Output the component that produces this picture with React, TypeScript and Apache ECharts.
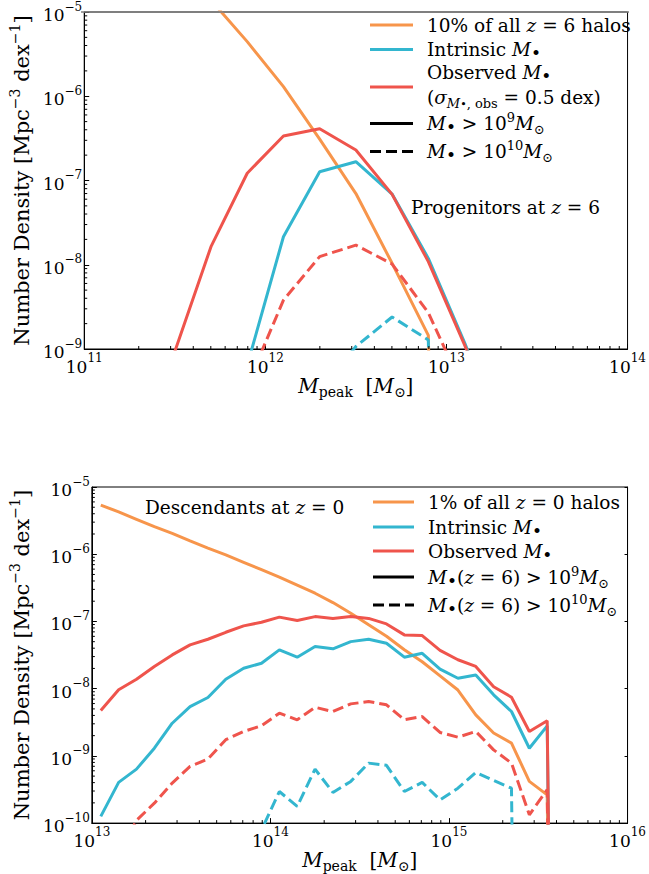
import React, { useEffect, useRef } from 'react';
import * as echarts from 'echarts';

// value used for empty bins (zero counts, drawn as a drop to the axis like a log plot of 0)
const ZERO = 1e-30;

// ---------- Top panel: progenitors at z = 6 ----------
const topLogMpeak = [11.3, 11.5, 11.7, 11.9, 12.1, 12.3, 12.5, 12.7, 12.9, 13.1, 13.3];
const topAllHalos = [9.0e-5, 3.5e-5, 1.38e-5, 4.45e-6, 1.3e-6, 3.1e-7, 7.0e-8, 1.04e-8, 1.45e-9, ZERO, ZERO];
const topIntrinsic9 = [ZERO, ZERO, ZERO, 6.4e-10, 2.15e-8, 1.27e-7, 1.67e-7, 6.9e-8, 1.19e-8, 1.19e-9, 1.0e-10];
const topObserved9 = [1.0e-11, 9.3e-10, 1.64e-8, 1.22e-7, 3.37e-7, 4.12e-7, 2.3e-7, 6.85e-8, 1.09e-8, 1.12e-9, 1.0e-10];
const topIntrinsic10 = [ZERO, ZERO, ZERO, ZERO, ZERO, 3.2e-10, 1.07e-9, 2.4e-9, 1.28e-9, ZERO, ZERO];
const topObserved10 = [ZERO, ZERO, ZERO, 3.7e-10, 3.8e-9, 1.25e-8, 1.71e-8, 1.02e-8, 2.7e-9, 3.1e-10, ZERO];

// ---------- Bottom panel: descendants at z = 0 ----------
const botLogMpeak = [
  13.05, 13.15, 13.25, 13.35, 13.45, 13.55, 13.65, 13.75, 13.85, 13.95,
  14.05, 14.15, 14.25, 14.35, 14.45, 14.55, 14.65, 14.75, 14.85, 14.95,
  15.05, 15.15, 15.25, 15.35, 15.45, 15.55, 15.65,
];
const botAllHalos = [
  5.37e-6, 4.27e-6, 3.31e-6, 2.57e-6, 2.04e-6, 1.58e-6, 1.23e-6, 9.77e-7, 7.59e-7, 5.89e-7,
  4.57e-7, 3.47e-7, 2.63e-7, 1.91e-7, 1.32e-7, 8.91e-8, 6.03e-8, 3.8e-8, 2.51e-8, 1.55e-8,
  9.55e-9, 4.07e-9, 2.19e-9, 1.55e-9, 4.17e-10, 2.63e-10, ZERO,
];
const botObserved9 = [
  4.73e-9, 9.62e-9, 1.38e-8, 2.14e-8, 3.18e-8, 4.48e-8, 5.43e-8, 6.9e-8, 8.59e-8, 9.73e-8,
  1.16e-7, 1.03e-7, 1.18e-7, 1.11e-7, 1.18e-7, 1.11e-7, 9.18e-8, 6.31e-8, 6.17e-8, 3.72e-8,
  2.69e-8, 2.14e-8, 1.07e-8, 7.46e-9, 2.31e-9, 3.33e-9, ZERO,
];
const botIntrinsic9 = [
  1.26e-10, 4.03e-10, 6.35e-10, 1.3e-9, 3.06e-9, 5.42e-9, 7.38e-9, 1.38e-8, 2.01e-8, 2.39e-8,
  3.78e-8, 2.94e-8, 4.23e-8, 3.91e-8, 5.01e-8, 5.43e-8, 4.73e-8, 2.94e-8, 3.36e-8, 1.95e-8,
  1.43e-8, 1.6e-8, 8.09e-9, 4.57e-9, 1.3e-9, 2.8e-9, ZERO,
];
const botObserved10 = [
  1.0e-11, 3.2e-11, 1.1e-10, 1.98e-10, 3.94e-10, 6.97e-10, 8.95e-10, 1.74e-9, 2.31e-9, 2.8e-9,
  4.32e-9, 3.44e-9, 5.28e-9, 4.57e-9, 5.94e-9, 6.43e-9, 5.75e-9, 3.44e-9, 3.85e-9, 2.23e-9,
  1.9e-9, 2.31e-9, 1.23e-9, 7.8e-10, 1.33e-10, 3.14e-10, ZERO,
];
const botIntrinsic10 = [
  ZERO, ZERO, ZERO, ZERO, ZERO, ZERO, ZERO, ZERO, 1.0e-11, 7.9e-11,
  2.95e-10, 1.77e-10, 6.35e-10, 2.86e-10, 4.17e-10, 7.8e-10, 7.24e-10, 2.95e-10, 4.03e-10, 2.22e-10,
  3.31e-10, 5.66e-10, 4.31e-10, 3.31e-10, ZERO, ZERO, ZERO,
];

// axis ranges (powers of ten)
const topXDecades = [11, 12, 13, 14];
const topYDecades = [-9, -8, -7, -6, -5];
const botXDecades = [13, 14, 15, 16];
const botYDecades = [-10, -9, -8, -7, -6, -5];
const MINOR = [2, 3, 4, 5, 6, 7, 8, 9];

const ORANGE = '#f7954b';
const CYAN = '#33b6cf';
const RED = '#ef544c';
const FONT = 'DejaVu Serif';

const pairs = (xs: number[], ys: number[]) => xs.map((lm, i) => [Math.pow(10, lm), ys[i]]);

function mkRich(fs: number, lh: number): any {
  const small = Math.round(fs * 0.68);
  return {
    t: { fontFamily: FONT, fontSize: fs, lineHeight: lh, verticalAlign: 'middle', color: '#000' },
    i: { fontFamily: FONT, fontSize: fs, fontStyle: 'italic', lineHeight: lh, verticalAlign: 'middle', color: '#000' },
    sub: { fontFamily: FONT, fontSize: small, lineHeight: lh * 0.62, verticalAlign: 'bottom', color: '#000' },
    subi: { fontFamily: FONT, fontSize: small, fontStyle: 'italic', lineHeight: lh * 0.62, verticalAlign: 'bottom', color: '#000' },
    bul: { fontFamily: FONT, fontSize: Math.round(fs * 0.9), lineHeight: lh * 0.8, verticalAlign: 'bottom', color: '#000' },
    sbul: { fontFamily: FONT, fontSize: Math.round(fs * 0.6), lineHeight: lh * 0.5, verticalAlign: 'bottom', color: '#000' },
    sup: { fontFamily: FONT, fontSize: small, lineHeight: lh * 0.55, verticalAlign: 'top', color: '#000' },
  };
}
const LFS = 18.5;
const legendRich = mkRich(LFS, 25);
const xNameRich = mkRich(20, 26);
const yNameRich = mkRich(21, 27);

const tickRich: any = {
  b: { fontFamily: FONT, fontSize: 17, lineHeight: 23, verticalAlign: 'bottom', color: '#000' },
  s: { fontFamily: FONT, fontSize: 12, lineHeight: 12, verticalAlign: 'top', color: '#000' },
};

const powLabel = (v: number) => {
  const e = Math.round(Math.log10(v));
  return `{b|10}{s|${String(e).replace('-', '\u2212')}}`;
};

const xName = '{i|M}{sub|peak}{t|  [}{i|M}{sub|\u2299}{t|]}';
const yName = '{t|Number Density [Mpc}{sup|\u22123}{t| dex}{sup|\u22121}{t|]}';

function xAxisCfg(grid: number, dec: number[]) {
  return {
    type: 'log', logBase: 10, gridIndex: grid,
    min: Math.pow(10, dec[0]), max: Math.pow(10, dec[dec.length - 1]),
    axisLine: { show: true, onZero: false, lineStyle: { color: '#000', width: 1 } },
    axisTick: { show: true, inside: true, length: 5, lineStyle: { color: '#000' } },
    axisLabel: { formatter: powLabel, rich: tickRich, margin: 3 },
    splitLine: { show: false },
    minorTick: { show: false },
    name: xName, nameLocation: 'middle', nameGap: 23,
    nameTextStyle: { rich: xNameRich },
  };
}

function yAxisCfg(grid: number, dec: number[]) {
  return {
    type: 'log', logBase: 10, gridIndex: grid,
    min: Math.pow(10, dec[0]), max: Math.pow(10, dec[dec.length - 1]),
    axisLine: { show: true, onZero: false, lineStyle: { color: '#000', width: 1 } },
    axisTick: { show: true, inside: true, length: 5, lineStyle: { color: '#000' } },
    axisLabel: { formatter: powLabel, rich: tickRich, margin: 2 },
    splitLine: { show: false },
    name: yName, nameLocation: 'middle', nameGap: 46, nameRotate: 90,
    nameTextStyle: { rich: yNameRich },
  };
}

function lineSeries(name: string, xi: number, yi: number, xs: number[], ys: number[], color: string, dashed: boolean) {
  return {
    type: 'line', name, xAxisIndex: xi, yAxisIndex: yi,
    data: pairs(xs, ys), showSymbol: false, symbol: 'none', clip: true, silent: true,
    lineStyle: { color, width: 3, type: dashed ? [11, 5] : 'solid', cap: 'butt' },
    z: 3,
  };
}

function minorXSeries(xi: number, yi: number, dec: number[], yMinExp: number) {
  const data: number[][] = [];
  for (let k = 0; k < dec.length - 1; k++) for (const m of MINOR) data.push([m * Math.pow(10, dec[k]), Math.pow(10, yMinExp)]);
  return {
    type: 'custom', xAxisIndex: xi, yAxisIndex: yi, silent: true, clip: false, data, z: 4,
    renderItem: (_p: any, api: any) => {
      const p = api.coord([api.value(0), api.value(1)]);
      return { type: 'line', shape: { x1: p[0], y1: p[1], x2: p[0], y2: p[1] - 3 }, style: { stroke: '#000', lineWidth: 1 } };
    },
  };
}

function minorYSeries(xi: number, yi: number, dec: number[], xMinExp: number) {
  const data: number[][] = [];
  for (let k = 0; k < dec.length - 1; k++) for (const m of MINOR) data.push([Math.pow(10, xMinExp), m * Math.pow(10, dec[k])]);
  return {
    type: 'custom', xAxisIndex: xi, yAxisIndex: yi, silent: true, clip: false, data, z: 4,
    renderItem: (_p: any, api: any) => {
      const p = api.coord([api.value(0), api.value(1)]);
      return { type: 'line', shape: { x1: p[0], y1: p[1], x2: p[0] + 3, y2: p[1] }, style: { stroke: '#000', lineWidth: 1 } };
    },
  };
}

function legendLine(x1: number, x2: number, y: number, color: string, dashed: boolean) {
  return {
    type: 'line', shape: { x1, y1: y, x2, y2: y },
    style: { stroke: color, lineWidth: 3, lineDash: dashed ? [11, 5] : null },
  };
}

function richText(x: number, y: number, text: string) {
  return {
    type: 'text', x, y,
    style: { text, rich: legendRich, fontFamily: FONT, fontSize: LFS, fill: '#000', align: 'left', verticalAlign: 'middle', textAlign: 'left', textVerticalAlign: 'middle' },
  };
}

const MB = '{i|M}{bul|\u2022}';
const MSUN = '{i|M}{sub|\u2299}';

export default function App() {
  const ref = useRef<HTMLDivElement>(null);
  useEffect(() => {
    if (!ref.current) return;
    const chart = echarts.init(ref.current, null, { renderer: 'svg' });
    const option: any = {
      animation: false,
      backgroundColor: '#fff',
      grid: [
        { left: 81, top: 12, width: 548, height: 337, show: true, borderColor: '#000', borderWidth: 1, backgroundColor: 'transparent' },
        { left: 81, top: 487, width: 548, height: 337, show: true, borderColor: '#000', borderWidth: 1, backgroundColor: 'transparent' },
      ],
      xAxis: [xAxisCfg(0, topXDecades), xAxisCfg(1, botXDecades)],
      yAxis: [
        yAxisCfg(0, topYDecades),
        yAxisCfg(1, botYDecades),
        {
          type: 'log', logBase: 10, gridIndex: 1, position: 'right',
          min: Math.pow(10, botYDecades[0]), max: Math.pow(10, botYDecades[botYDecades.length - 1]),
          axisLine: { show: true, lineStyle: { color: '#000' } },
          axisTick: { show: true, inside: true, length: 3, lineStyle: { color: '#000' } },
          axisLabel: { show: false }, splitLine: { show: false },
        },
      ],
      series: [
        lineSeries('10% of all z=6 halos', 0, 0, topLogMpeak, topAllHalos, ORANGE, false),
        lineSeries('Intrinsic >1e9', 0, 0, topLogMpeak, topIntrinsic9, CYAN, false),
        lineSeries('Observed >1e9', 0, 0, topLogMpeak, topObserved9, RED, false),
        lineSeries('Intrinsic >1e10', 0, 0, topLogMpeak, topIntrinsic10, CYAN, true),
        lineSeries('Observed >1e10', 0, 0, topLogMpeak, topObserved10, RED, true),
        lineSeries('1% of all z=0 halos', 1, 1, botLogMpeak, botAllHalos, ORANGE, false),
        lineSeries('Intrinsic z=0 >1e9', 1, 1, botLogMpeak, botIntrinsic9, CYAN, false),
        lineSeries('Observed z=0 >1e9', 1, 1, botLogMpeak, botObserved9, RED, false),
        lineSeries('Intrinsic z=0 >1e10', 1, 1, botLogMpeak, botIntrinsic10, CYAN, true),
        lineSeries('Observed z=0 >1e10', 1, 1, botLogMpeak, botObserved10, RED, true),
        minorXSeries(0, 0, topXDecades, topYDecades[0]),
        minorYSeries(0, 0, topYDecades, topXDecades[0]),
        minorXSeries(1, 1, botXDecades, botYDecades[0]),
        minorYSeries(1, 1, botYDecades, botXDecades[0]),
      ],
      graphic: [
        { type: 'line', shape: { x1: 81, y1: 12, x2: 629, y2: 12 }, style: { stroke: '#7f7f7f', lineWidth: 1.5 }, z: 10 },
        // top legend
        legendLine(370, 413, 25, ORANGE, false),
        richText(427, 25, '{t|10% of all }{i|z}{t| = 6 halos}'),
        legendLine(370, 413, 49.5, CYAN, false),
        richText(427, 49, '{t|Intrinsic }' + MB),
        legendLine(370, 413, 87, RED, false),
        richText(427, 72, '{t|Observed }' + MB),
        richText(427, 97, '{t|(}{i|\u03c3}{subi|M}{sbul|\u2022}{sub|, obs}{t| = 0.5 dex)}'),
        legendLine(370, 413, 123.5, '#000', false),
        richText(427, 123, MB + '{t| > 10}{sup|9}' + MSUN),
        legendLine(370, 413, 151.5, '#000', true),
        richText(427, 151, MB + '{t| > 10}{sup|10}' + MSUN),
        richText(411, 207, '{t|Progenitors at }{i|z}{t| = 6}'),
        // bottom legend
        legendLine(373, 414, 502, ORANGE, false),
        richText(428, 502, '{t|1% of all }{i|z}{t| = 0 halos}'),
        legendLine(373, 414, 527, CYAN, false),
        richText(428, 527, '{t|Intrinsic }' + MB),
        legendLine(373, 414, 551, RED, false),
        richText(428, 551, '{t|Observed }' + MB),
        legendLine(373, 414, 577, '#000', false),
        richText(428, 577, MB + '{t|(}{i|z}{t| = 6) > 10}{sup|9}' + MSUN),
        legendLine(373, 414, 605, '#000', true),
        richText(428, 605, MB + '{t|(}{i|z}{t| = 6) > 10}{sup|10}' + MSUN),
        richText(145, 507, '{t|Descendants at }{i|z}{t| = 0}'),
      ],
    };
    chart.setOption(option);
    return () => chart.dispose();
  }, []);
  return <div ref={ref} style={{ position: 'fixed', left: 0, top: 0, width: 649, height: 874, background: '#fff' }} />;
}
